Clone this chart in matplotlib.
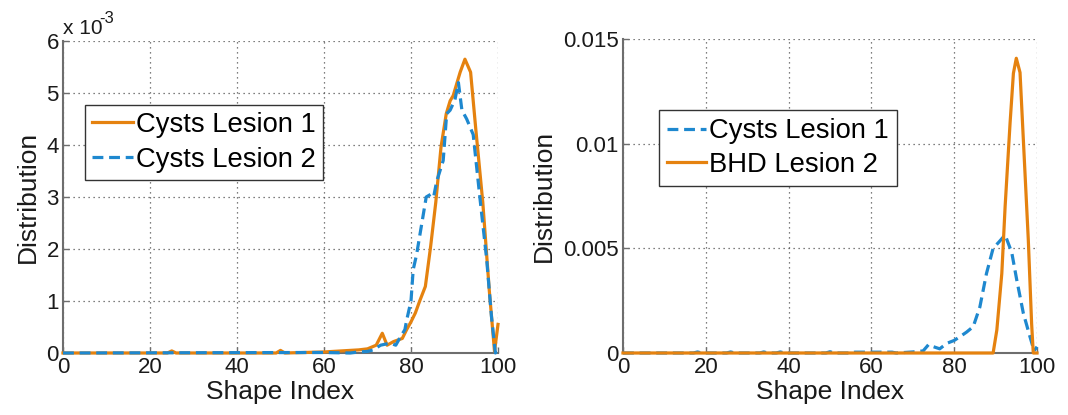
import matplotlib
matplotlib.use("Agg")
import matplotlib.pyplot as plt
from matplotlib.ticker import FixedLocator

# ---------------- data ----------------
# Left panel
l1_x = [0, 1, 24, 25, 26, 49, 50, 51, 60, 64, 66, 68, 70, 72, 73.4, 74.5, 76, 78, 79, 80, 81, 82,
        83.3, 84.5, 85.7, 86.9, 88.1, 89, 89.7, 91.3, 92.4, 93.7, 94.9, 96.5, 98, 99.2, 100]
l1_y = [0, 0, 0, 0.04e-3, 0, 0, 0.05e-3, 0, 0.02e-3, 0.04e-3, 0.05e-3, 0.06e-3, 0.08e-3, 0.15e-3,
        0.38e-3, 0.15e-3, 0.22e-3, 0.28e-3, 0.45e-3, 0.6e-3, 0.77e-3, 1.0e-3, 1.28e-3, 2.04e-3,
        2.9e-3, 3.96e-3, 4.6e-3, 4.85e-3, 4.95e-3, 5.4e-3, 5.65e-3, 5.4e-3, 4.3e-3, 2.9e-3,
        1.2e-3, 0.03e-3, 0.55e-3]

l2_x = [0, 60, 66, 68, 70, 71.3, 73, 75.2, 76.5, 77.5, 78.6, 79, 80, 80.5, 81.3, 82.5, 83.5, 84.5,
        85.2, 85.9, 87.4, 88.2, 89, 90.1, 90.9, 91.7, 92.8, 94.3, 95.9, 97.4, 98.5, 99.4, 100]
l2_y = [0, 0.01e-3, 0, 0.02e-3, 0.03e-3, 0.06e-3, 0.15e-3, 0.19e-3, 0.15e-3, 0.3e-3, 0.45e-3,
        0.63e-3, 1.0e-3, 1.6e-3, 1.9e-3, 2.5e-3, 3.0e-3, 3.05e-3, 3.0e-3, 3.3e-3, 3.7e-3, 4.6e-3,
        4.67e-3, 4.87e-3, 5.2e-3, 4.67e-3, 4.5e-3, 4.2e-3, 2.94e-3, 1.8e-3, 0.7e-3, 0, 0.05e-3]

# Right panel
r1_x = [0, 17, 18, 19, 25, 26, 27, 33, 34, 35, 37, 38, 39, 49, 50, 51, 55, 56, 65, 66, 70, 72.5,
        73.8, 75, 76.5, 78.2, 80, 81.4, 83, 84.6, 86.2, 87.8, 89.4, 90.8, 92.3, 93.9, 95.1, 96.7,
        98.3, 99.3, 100]
r1_y = [0, 0, 0.00005, 0, 0, 0.00005, 0, 0, 0.00005, 0, 0, 0.00005, 0, 0, 0.00006, 0, 0,
        0.00004, 0.00004, 0, 0.00005, 0.0001, 0.0004, 0.0003, 0.0002, 0.00046, 0.0006, 0.00078,
        0.001, 0.00126, 0.0022, 0.0038, 0.005, 0.0053, 0.00564, 0.0048, 0.0035, 0.0019,
        0.00078, 0.0001, 0.0003]

r2_x = [0, 89.4, 90.3, 91.5, 92.3, 93.5, 94.3, 95.0, 95.9, 96.7, 97.9, 98.7, 99.1, 100]
r2_y = [0, 0, 0.0011, 0.0038, 0.007, 0.011, 0.01336, 0.01408, 0.0134, 0.0102, 0.0054, 0.0014,
        0, 0]

x_ticks = [0, 20, 40, 60, 80, 100]
left_yticks = [0, 1e-3, 2e-3, 3e-3, 4e-3, 5e-3, 6e-3]
left_ylabels = ["0", "1", "2", "3", "4", "5", "6"]
right_yticks = [0, 0.005, 0.01, 0.015]
right_ylabels = ["0", "0.005", "0.01", "0.015"]

ORANGE = "#E5820F"
BLUE = "#1E88CF"

plt.rcParams["font.family"] = ["Liberation Sans", "DejaVu Sans"]

fig = plt.figure(figsize=(10.68, 4.15), dpi=100)
axL = fig.add_axes([63 / 1068, 62 / 415, 435 / 1068, 312 / 415])
axR = fig.add_axes([623 / 1068, 62 / 415, 414 / 1068, 314 / 415])

LW = 2.3
DASH = (3.4, 1.8)
LEG_FS = 19.7


def style(ax, yticks, ylabels, ymax):
    ax.set_xlim(0, 100)
    ax.set_ylim(0, ymax)
    ax.xaxis.set_major_locator(FixedLocator(x_ticks))
    ax.yaxis.set_major_locator(FixedLocator(yticks))
    ax.set_yticklabels(ylabels)
    ax.grid(True, linestyle=(0, (1, 3)), color="#555555", linewidth=0.9)
    for s in ["top", "right"]:
        ax.spines[s].set_visible(False)
    for s in ["left", "bottom"]:
        ax.spines[s].set_color("#6e6e6e")
        ax.spines[s].set_linewidth(1.5)
    ax.tick_params(direction="in", length=4, width=1, color="#6e6e6e",
                   labelsize=16, pad=3, labelcolor="#1a1a1a")
    ax.set_xlabel("Shape Index", fontsize=19, labelpad=1, color="#1a1a1a")
    ax.set_ylabel("Distribution", fontsize=19, labelpad=5, color="#1a1a1a")
    ax.set_axisbelow(True)


def legend(ax, anchor, hl, bp, ls):
    leg = ax.legend(loc="upper left", bbox_to_anchor=anchor, fontsize=LEG_FS,
                    frameon=True, fancybox=False, edgecolor="#333333", framealpha=1,
                    handlelength=hl, handletextpad=0.12, borderpad=bp,
                    labelspacing=ls, borderaxespad=0)
    leg.get_frame().set_linewidth(1.0)
    return leg


# Left panel
axL.plot(l1_x, l1_y, color=ORANGE, lw=LW, label="Cysts Lesion 1", clip_on=False, zorder=3)
axL.plot(l2_x, l2_y, color=BLUE, lw=LW, dashes=DASH, label="Cysts Lesion 2", clip_on=False,
         zorder=3)
style(axL, left_yticks, left_ylabels, 6e-3)
axL.text(0.0, 1.022, "x 10", transform=axL.transAxes, fontsize=15,
         ha="left", va="baseline", color="#1a1a1a")
axL.text(0.084, 1.058, "-3", transform=axL.transAxes, fontsize=12,
         ha="left", va="baseline", color="#1a1a1a")
legend(axL, (0.05, 0.795), 1.5, 0.25, 0.33)

# Right panel
axR.plot(r1_x, r1_y, color=BLUE, lw=LW, dashes=DASH, label="Cysts Lesion 1", clip_on=False,
         zorder=3)
axR.plot(r2_x, r2_y, color=ORANGE, lw=LW, label="BHD Lesion 2", clip_on=False, zorder=3)
style(axR, right_yticks, right_ylabels, 0.015)
legend(axR, (0.087, 0.774), 1.4, 0.3, 0.28)

fig.savefig("out.png", dpi=100)
